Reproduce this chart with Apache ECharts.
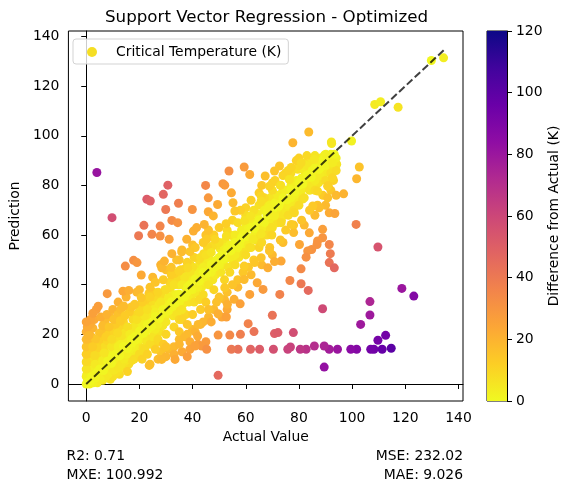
<!DOCTYPE html>
<html><head><meta charset="utf-8">
<script src="https://cdn.jsdelivr.net/npm/echarts@6/dist/echarts.min.js"></script>
<style>html,body{margin:0;padding:0;background:#fff}#c{width:571px;height:492px}</style>
</head><body><div id="c"></div>
<script>
const titleText = 'Support Vector Regression - Optimized';
const seriesName = 'Critical Temperature (K)';
const xTicks = [0,20,40,60,80,100,120,140];
const yTicks = [0,20,40,60,80,100,120,140];
const cbarTicks = [0,20,40,60,80,100,120];
const diagLine = [[0,0],[135,135]];
const metricsLeft = ['R2: 0.71','MXE: 100.992'];
const metricsRight = ['MSE: 232.02','MAE: 9.026'];

// [actual, predicted]
const pointsDiagonal = [[0,0],[0.6,0.8],[2,3],[3.5,2.5],[5,6],[6.5,5.4],[8,9.2],[9.5,8.3],[11,12],[12.6,11.4],[14,15.2],[15.5,14.3],[17,18],[18.4,17.6],[20,21.3],[21.5,20.4],[23,24],[24.6,23.3],[26,27.2],[27.5,26.4],[29,30],[30.6,29.3],[32,33.1],[33.5,32.6],[35,36.2],[36.4,35.3],[38,39],[39.6,38.2],[41,42.3],[42.5,41.4],[44,45],[45.4,44.6],[47,48.2],[48.6,47.3],[50,51],[51.5,50.4],[53,54.3],[54.4,53.6],[56,57],[57.6,56.2],[59,60.3],[60.5,59.4],[62,63],[63.4,62.6],[65,66.2],[66.6,65.3],[68,69],[69.5,68.4],[71,72.3],[72.4,71.6],[74,75],[75.6,74.2],[77,78.2],[78.5,77.4],[80,81],[81.4,80.6],[83,84.2],[84.6,83.3],[86,87],[87.5,86.4],[89,90.2],[90.6,89.3],[92,92.5]];

const pointsLowCluster = [[0.5,1],[1,2.5],[0.3,4],[0.8,5.5],[1.5,7],[0.2,8.5],[1,10],[0.5,11.5],[1.8,13],[0.3,14.5],[1.2,16],[0.6,17.5],[2,19],[1,21],[2.5,22.5],[1.5,24],[3,26],[0.8,12.5],[2.2,9],[2.8,6],[3.5,4],[2,2],[3,1],
[4,3],[4.5,6],[5,8.5],[4,11],[5.5,13],[4.8,16],[6,18],[5,20.5],[6.5,22],[7,25],[5.5,27],[6,5],[7,7],[7.5,10],[8,12],[7,15],[8,17.5],[8.5,20],[3.5,18],[4,14.5],
[9,6],[10,8],[11,10],[10,12],[12,13],[9.5,15],[11,17],[12.5,19],[10.5,21],[13,22.5],[14,25],[12,28],[14,12],[15,14.5],[13,16],[15,18],[14.5,20.5],[11,24],[9,27],[13,30],[10,3],[12,5],[14,7],[15,9.5],[13,11],
[0,3],[0,6],[0,9],[0,12],[0,15],[0,18],[0,21],[0.4,23],[1.6,26],[2.5,28.5],[3.8,30],[0,25],[1,19.5],[2.4,15],[3.2,11.5],[3.4,8],[4.6,1.5],[5.4,4],[6.2,9.5],[6.8,12.5],[7.4,19],[6.2,23.5],[7.8,28],[8.6,23],[9.6,18],[9.8,11],[8.6,7.5],[11.6,7],[12.4,9],[12,15],[13.4,19.5],[11.8,20.5],[10.4,26],[12.8,25.5],[14.6,27.5],[15.6,23],[16.4,20],[16.8,15],[17.2,9.5],[15.5,5],[8.2,4],[7.2,2.5],[6.2,1.5],[5.2,2],[4.2,0.5],[2.6,0.5],[1.6,1.2],[11.2,4.5],[10.4,5.5],[12.2,6.5],[13.2,8],[14.2,10],[15.2,12],[16.4,14],[17.2,16.5],[18.2,19]];

const pointsBand = [[16,11],[17,13],[18,15],[16,17],[19,18],[17.5,20],[20,21],[18,23],[21,24],[19,26],[22,27.5],[20,29],[23,30],[17,31],[21,33],[24,35],[22,20],[24,22],[23,18],[25,25],[16,8],[18,10],[20,12],[22,14],[24,16],[21,10],[23,12],[25,19],[19,37],[24,39],
[26,22],[27,24],[28,27],[26,29],[29,30],[30,32],[28,33],[31,35],[27,37],[30,38],[33,40],[29,42],[32,44],[34,36],[35,33],[32,30],[34,28],[30,25],[33,23],[35,26],[27,18],[29,16],[31,14],[33,15],[28,13],[30,20],[35,21],[26,41],[28,48],[32,47],[34,50],
[36,30],[37,35],[38,37],[40,38],[39,40],[41,42],[37,43],[42,45],[44,47],[40,47],[38,49],[43,51],[45,52],[36,54],[41,55],[44,57],[39,45],[42,39],[44,36],[36,26],[38,24],[40,28],[43,30],[45,33],[37,19],[39,17],[41,21],[44,25],[45,42],[36,40],
[46,40],[47,45],[48,47],[49,50],[50,48],[51,52],[47,53],[52,55],[54,56],[50,57],[48,60],[53,62],[46,62],[55,51],[54,45],[52,42],[48,38],[50,35],[53,37],[46,30],[49,33],[55,40],[51,27],[47,25],[53,30],
[56,52],[57,55],[58,58],[60,60],[59,62],[61,63],[57,65],[62,66],[64,64],[60,68],[58,70],[63,70],[65,72],[56,48],[60,52],[62,55],[64,58],[65,55],[59,45],[61,47],[63,50],[57,42],[65,62],[56,60],[62,74],
[66,62],[67,65],[68,68],[70,70],[69,72],[71,73],[67,75],[72,76],[74,74],[70,78],[66,80],[73,80],[75,78],[68,60],[70,63],[72,65],[74,68],[75,70],[66,57],[69,55],[73,58],[75,62],[71,82],[67,70],[74,84],
[76,72],[77,75],[78,78],[80,80],[79,82],[81,83],[77,85],[82,86],[84,84],[80,88],[76,86],[83,88],[85,86],[76,68],[78,70],[80,72],[82,75],[84,78],[85,80],[78,64],[81,66],[84,70],[79,90],[83,92],[77,80],
[86,82],[87,85],[88,87],[89,89],[90,88],[91,90],[87,90],[92,91],[93,88],[88,84],[90,82],[92,85],[94,86],[86,78],[89,76],[91,80],[93,82],[94,91],[86,92],[90,92],[92,78],[87,72],[94,76],
[24,8],[27,10],[30,11],[33,12],[36,13],[39,14],[42,16],[45,17],[30,15],[35,16],[38,11],[26,14],[23.7,7.5],[28.4,9.9],[33.4,9.9],[12.5,3.9],[9.1,1.9],[1.2,0]];

const pointsFill = [[18.5,12.5],[19.6,15.5],[20.6,18],[21.8,22],[22.6,25.5],[23.4,28],[24.2,32],[25.4,30],[26.4,33.5],[18.8,28],[17.6,26],[16.2,29],[19.8,31],[22.2,31.5],[21.4,14.5],[22.8,17],[25.6,20.5],[26.6,17],[27.6,21],[28.8,23.5],[29.6,27],[31,30.5],[32.6,27.5],[33.8,31],[35.4,29.5],[36.6,32.5],[37.4,28],[38.6,33],[39.4,35.5],[40.6,33],[41.4,36.5],[42.6,34],[43.4,39],[44.6,41],[30.4,34],[31.6,38.5],[33.2,36],[34.6,40],[35.8,43],[37.6,38.5],[38.4,42],[40.2,43.5],[41.8,47],[43.2,44],[44.8,49],[46.4,46],[46.6,50],[47.6,42],[48.6,44],[49.4,46.5],[50.6,45],[51.4,48],[52.6,50.5],[53.4,47],[54.6,52],[55.4,49],[56.6,54],[57.4,51],[58.6,55.5],[59.4,53],[60.6,57],[61.4,55],[62.6,58.5],[63.4,60.5],[64.6,61.5],[65.4,59],[66.6,63.5],[67.4,61],[68.6,65],[69.4,63],[70.6,66.5],[71.4,68],[72.6,69],[73.4,66],[74.6,71],[75.4,73],[76.6,70],[77.4,72.5],[78.6,74],[79.4,76.5],[80.6,77],[81.4,74.5],[82.6,79],[83.4,81],[84.6,80],[85.4,83.5],[86.6,84],[87.4,81],[88.6,86],[89.4,84.5],[90.6,86.5],[91.4,88],[92.6,89],[93.4,90],[94.2,88.5],[88.2,91],[89.6,92.2],[84.8,89.5],[82.2,89],[79.6,86.5],[76.4,83],[73.6,77],[71.8,75.5],[69.2,75],[67.8,72],[64.4,68.5],[61.6,66],[60.2,64],[58.4,62],[55.8,58.5],[54.2,60],[52.2,57.5],[50.4,54.5],[49.2,56],[47.4,55.5],[45.6,55],[44.2,52.5],[42.4,50],[40.6,51],[39.2,48],[37.2,46.5],[35.6,46],[34.2,42.5],[33.2,44.5],[31.4,41],[29.6,38],[28.2,36],[27.4,32],[26.2,35],[25.2,37],[23.6,36.5],[22.4,34],[21.2,30.5],[20.4,27],[19.2,24],
[35,18],[38,20],[40,22],[43,24],[46,27],[48,30],[52,34],[57,39],[62,44],[66,48],[70,52],[74,57],[78,61],[82,64],[86,68],[90,72],
[10,30],[12,33],[15,35],[20,38],[25,43],[30,46],[35,50],[40,56],[45,60],[50,63],[55,66],[60,71],[65,77],[70,81],[75,85],[80,91]];

const pointsAbove = [[4,85.2],[9.7,67],[30.7,80.1],[22.8,74.4],[24.1,73.7],[29,76.4],[29.9,70.3],[34.7,72.8],[39.9,70.3],[44.9,80],[45.9,75],[51.4,80.7],[52.1,80.1],[54.6,77],[53.7,85.8],[59.4,87.4],[61.5,84.4],[32.2,65.9],[34.4,65],[21.7,63.9],[27.8,63.6],[19.7,59.7],[24.7,60.3],[27.8,59.6],[31.2,58.3],[37.8,58.3],[14.7,47.5],[17.8,49.8],[19.1,48.9],[20.7,43.9],[7.9,36.4],[13.8,37.4],[16,37.7],[4.5,31.3],[14.1,31.4],[18.2,32.1],[20.7,34.8],[28.4,46.8],[29.4,49.5],[32.2,52.5],[35.9,53.2],[39,53.3],[34.9,45.5],[38.2,46.8],[40.3,61.6],[41.5,63],[44.4,64.3],[45.9,69.4],[47.8,67.7],[49.4,72.3],[55.2,73],[52.6,64.6],[55.9,69.7],[59.6,65.9],[61.8,67.7],[65.8,75.7],[68.6,71],[72.7,87.8],[77.1,87.2],[80.8,89.1],[70.8,85.8],[67.3,83.8],[68.9,79.7],[73.1,80.1],[76.4,82.4],[85.8,90.5],[90.1,92.5],[93.3,92.5],[92.6,89.1],[92.6,83.1],[90.8,79.7],[87,77.7],[90.8,75],[87.6,71],[91.4,69],[93.5,68.7],[85.2,71.7],[78.3,69],[77.1,64.3],[73.3,65],[70.8,67.7],[65.8,73.7],[65.8,60.5],[69.8,60],[62.7,58.3],[58.4,58.9],[52.7,59.6],[48.4,58.3],[45.3,58.3],[83.7,101.5],[77.7,97.2],[92.3,96.9],[99.8,97.9],[92.2,97.5]];

const pointsBelow = [[102.7,87.4],[101.7,82.7],[96.8,76.6],[101.5,64.3],[109.7,55.2],[118.7,38.5],[123.2,35.4],[106.7,33.2],[106.7,27.8],[103.2,24],[112.6,19.6],[109.7,17.6],[114.7,14.4],[111.3,14],[108.2,14],[107,14],[101.7,14],[99.5,14],[94.5,14],[91.4,14],[89.5,15.3],[89.5,6.8],[88.9,30.3],[85.8,15.3],[82.7,14],[80.5,14],[76.8,14.9],[75.8,14],[70.4,14],[70.8,20.3],[72.1,20.7],[77.9,20.7],[65.2,14],[61.8,14],[57.1,14],[54.6,14],[63.1,21.1],[60.9,24.3],[58,20],[54,19.7],[49.6,19.7],[49.6,3.5],[70,27.7],[72.8,36.1],[76.6,41.7],[80.8,40.4],[83.5,37.7],[80.8,46.4],[91.4,48.9],[93.3,46.8],[91.8,52.5],[91.4,56.2],[88.9,58.9],[87,57.6],[84.8,54.2],[83.3,53.6],[82.7,51.1],[80.2,56.2],[83.9,60.9],[88.9,62.3],[86.8,56.2],[73.3,49.5],[70.8,49.3],[68.3,46.8],[68.9,53.6],[65.8,50.9],[63.3,48.9],[59.4,47.5],[59.4,42.1],[64.3,40.8],[61.5,36.1],[66.5,38.1],[53.1,32.1],[55.6,34.1],[57.9,32.3],[52.1,38.8],[49.6,28.3],[52.7,27],[43.4,15.3],[45.3,14],[40.9,15.3],[41.9,19.3],[42.1,24]];

const pointsTop = [[129.8,130.3],[134.4,131.4],[108.5,112.6],[110.7,113.7],[117.3,111.5]];

const plasmaR = ['#f0f921','#fcce25','#fca636','#f2844b','#e16462','#cc4778','#b12a90','#8f0da4','#6a00a8','#41049d','#0d0887'];
const allPoints = [].concat(pointsFill, pointsBand, pointsLowCluster, pointsDiagonal, pointsAbove, pointsBelow, pointsTop);
const scatterData = allPoints.map(p => [p[0], p[1], Math.abs(p[0] - p[1])]);

const FONT = 'DejaVu Sans';
const FS = 13.9;
const chart = echarts.init(document.getElementById('c'), null, {renderer: 'canvas'});
chart.setOption({
  animation: false,
  backgroundColor: '#fff',
  textStyle: {fontFamily: FONT},
  grid: [
    {left: 66, top: 31, width: 397, height: 370, show: true, borderColor: '#000', borderWidth: 1, backgroundColor: 'transparent'},
    {left: 487, top: 31, width: 20, height: 370, show: true, borderColor: '#000', borderWidth: 1}
  ],
  legend: {
    left: 73, top: 39,
    data: [{name: seriesName, icon: 'circle', itemStyle: {color: '#f5de24'}}],
    itemWidth: 10, itemHeight: 10,
    padding: [6, 7, 5, 14],
    backgroundColor: 'rgba(255,255,255,0.8)',
    borderColor: '#d3d3d3', borderWidth: 1, borderRadius: 3,
    textStyle: {fontFamily: FONT, fontSize: FS, color: '#000', padding: [0, 0, 0, 14]}
  },
  visualMap: {show: false, type: 'continuous', seriesIndex: 0, dimension: 2, min: 0, max: 120, inRange: {color: plasmaR}},
  xAxis: [
    {type: 'value', gridIndex: 0, min: -6.7, max: 141.7,
     name: 'Actual Value', nameLocation: 'middle', nameGap: 29,
     nameTextStyle: {fontFamily: FONT, fontSize: FS, color: '#000'},
     axisLine: {show: true, lineStyle: {color: '#000', width: 1}},
     axisTick: {show: true, inside: false, length: 5, lineStyle: {color: '#000'}, customValues: xTicks},
     axisLabel: {fontFamily: FONT, fontSize: FS, color: '#000', margin: 10, customValues: xTicks},
     splitLine: {show: false}},
    {type: 'category', gridIndex: 1, data: ['cb'], show: false}
  ],
  yAxis: [
    {type: 'value', gridIndex: 0, min: -6.85, max: 142.2,
     name: 'Prediction', nameLocation: 'middle', nameGap: 41,
     nameTextStyle: {fontFamily: FONT, fontSize: FS, color: '#000'},
     axisLine: {show: true, lineStyle: {color: '#000', width: 1}},
     axisTick: {show: true, inside: false, length: 5, lineStyle: {color: '#000'}, customValues: yTicks},
     axisLabel: {fontFamily: FONT, fontSize: FS, color: '#000', margin: 9, customValues: yTicks},
     splitLine: {show: false}},
    {type: 'value', gridIndex: 1, position: 'right', min: 0, max: 120, interval: 20,
     name: 'Difference from Actual (K)', nameLocation: 'middle', nameGap: 40, nameRotate: 90,
     nameTextStyle: {fontFamily: FONT, fontSize: FS, color: '#000'},
     axisLine: {show: true, lineStyle: {color: '#000', width: 1}},
     axisTick: {show: true, inside: false, length: 5, lineStyle: {color: '#000'}},
     axisLabel: {fontFamily: FONT, fontSize: FS, color: '#000', margin: 9},
     splitLine: {show: false}}
  ],
  series: [
    {name: seriesName, type: 'scatter', xAxisIndex: 0, yAxisIndex: 0, data: scatterData, symbolSize: 9, itemStyle: {opacity: 1}, z: 2},
    {type: 'line', xAxisIndex: 0, yAxisIndex: 0, data: diagLine, symbol: 'none', silent: true, z: 3,
     lineStyle: {color: 'rgba(0,0,0,0.75)', width: 2, type: [7.5, 3.2]}},
    {type: 'bar', xAxisIndex: 1, yAxisIndex: 1, data: [120], barWidth: '100%', silent: true,
     itemStyle: {color: {type: 'linear', x: 0, y: 1, x2: 0, y2: 0,
       colorStops: plasmaR.map((c, i) => ({offset: i / (plasmaR.length - 1), color: c}))}}}
  ],
  graphic: [
    {type: 'text', x: 266.5, y: 18, style: {text: titleText, font: '16.7px "DejaVu Sans"', fill: '#000', align: 'center', verticalAlign: 'middle'}},
    {type: 'text', x: 66.5, y: 456, style: {text: metricsLeft[0], font: FS + 'px "DejaVu Sans"', fill: '#000', align: 'left', verticalAlign: 'middle'}},
    {type: 'text', x: 66.5, y: 475, style: {text: metricsLeft[1], font: FS + 'px "DejaVu Sans"', fill: '#000', align: 'left', verticalAlign: 'middle'}},
    {type: 'text', x: 463, y: 456, style: {text: metricsRight[0], font: FS + 'px "DejaVu Sans"', fill: '#000', align: 'right', verticalAlign: 'middle'}},
    {type: 'text', x: 463, y: 475, style: {text: metricsRight[1], font: FS + 'px "DejaVu Sans"', fill: '#000', align: 'right', verticalAlign: 'middle'}}
  ]
});
</script></body></html>
